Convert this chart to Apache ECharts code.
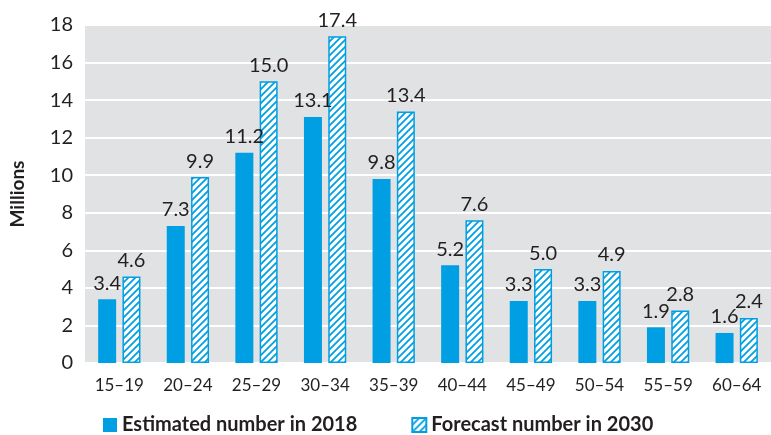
<!DOCTYPE html>
<html><head><meta charset="utf-8">
<script src="https://cdn.jsdelivr.net/npm/echarts@6/dist/echarts.min.js"></script>
<style>html,body{margin:0;padding:0;background:#fff}#c{width:771px;height:435px}</style>
</head><body><div id="c"></div>
<script>
const categories = ['15–19','20–24','25–29','30–34','35–39','40–44','45–49','50–54','55–59','60–64'];
const estimated2018 = [3.4,7.3,11.2,13.1,9.8,5.2,3.3,3.3,1.9,1.6];
const forecast2030 = [4.6,9.9,15.0,17.4,13.4,7.6,5.0,4.9,2.8,2.4];
const yTicks = [0,2,4,6,8,10,12,14,16,18];

const BLUE = '#009fe3';
function hatch(){
  const c = document.createElement('canvas');
  c.width = 7; c.height = 7;
  const g = c.getContext('2d');
  g.fillStyle = '#fff'; g.fillRect(0,0,7,7);
  g.strokeStyle = BLUE; g.lineWidth = 1.8;
  g.beginPath();
  g.moveTo(0,7); g.lineTo(7,0);
  g.moveTo(-3.5,3.5); g.lineTo(3.5,-3.5);
  g.moveTo(3.5,10.5); g.lineTo(10.5,3.5);
  g.stroke();
  return c;
}
const pattern = {image: hatch(), repeat: 'repeat'};
const FONT = 'Lato, "Open Sans", sans-serif';
const chart = echarts.init(document.getElementById('c'), null, {renderer:'canvas'});
chart.setOption({
  animation:false,
  textStyle:{fontFamily:FONT},
  grid:{left:84, right:0, top:25, bottom:72, backgroundColor:'#e1e2e4', show:true, borderWidth:0},
  legend:{
    bottom:-5, left:98, itemWidth:14, itemHeight:14, itemGap:54,
    textStyle:{fontFamily:FONT, fontWeight:'bold', fontSize:20, color:'#231f20'},
    data:[{name:'Estimated number in 2018', icon:'rect'},{name:'Forecast number in 2030', icon:'rect'}]
  },
  xAxis:{
    type:'category', data:categories,
    axisTick:{show:false}, axisLine:{lineStyle:{color:'#ffffff', width:2}},
    axisLabel:{fontSize:17, color:'#231f20', margin:14, fontFamily:FONT}
  },
  yAxis:{
    type:'value', min:yTicks[0], max:yTicks[yTicks.length-1], interval:2,
    name:'Millions', nameLocation:'middle', nameGap:58, nameRotate:90,
    nameTextStyle:{fontSize:19, fontWeight:'bold', color:'#231f20', fontFamily:FONT},
    axisLabel:{fontSize:20, color:'#231f20', margin:12, fontFamily:FONT},
    splitLine:{lineStyle:{color:'#ffffff', width:2}},
    axisLine:{show:false}, axisTick:{show:false}
  },
  series:[
    {name:'Estimated number in 2018', type:'bar', data:estimated2018, barWidth:18, barGap:'35%',
     itemStyle:{color:BLUE},
     label:{show:true, position:'top', distance:6, fontSize:20, color:'#231f20', fontFamily:FONT, formatter:p=>p.value.toFixed(1)}},
    {name:'Forecast number in 2030', type:'bar', data:forecast2030, barWidth:18,
     itemStyle:{color:pattern, borderColor:BLUE, borderWidth:1.5},
     label:{show:true, position:'top', distance:6, fontSize:20, color:'#231f20', fontFamily:FONT, formatter:p=>p.value.toFixed(1)}}
  ]
});
</script></body></html>
